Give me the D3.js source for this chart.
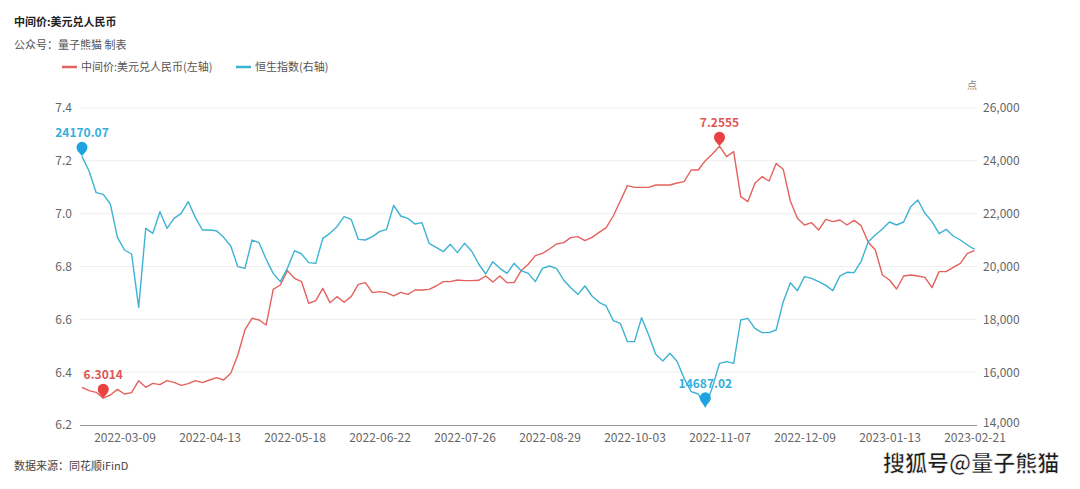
<!DOCTYPE html>
<html><head><meta charset="utf-8">
<script src="https://cdn.jsdelivr.net/npm/d3@7"></script>
<style>
html,body{margin:0;padding:0;background:#fff;}
svg{display:block;font-family:"Noto Sans CJK SC","Noto Sans",sans-serif;}
</style></head>
<body><svg id="c" width="1080" height="489"></svg>
<script>
const tickLabels = ["2022-03-09","2022-04-13","2022-05-18","2022-06-22","2022-07-26","2022-08-29","2022-10-03","2022-11-07","2022-12-09","2023-01-13","2023-02-21"];
const tickIndex = [6,18,30,42,54,66,78,90,102,114,126];
const leftTicks = [6.2,6.4,6.6,6.8,7.0,7.2,7.4];
const rightTicks = [14000,16000,18000,20000,22000,24000,26000];
const usdcny = [6.3426,6.3300,6.3237,6.3014,6.3136,6.3350,6.3174,6.3224,6.3679,6.3426,
6.3578,6.3527,6.3679,6.3616,6.3502,6.3565,6.3679,6.3603,6.3704,6.3792,
6.3704,6.3956,6.4650,6.5597,6.6040,6.5975,6.5786,6.7136,6.7300,6.7843,
6.7552,6.7426,6.6606,6.6707,6.7174,6.6631,6.6858,6.6644,6.6858,6.7325,
6.7388,6.7010,6.7048,6.7010,6.6884,6.7022,6.6947,6.7111,6.7111,6.7136,
6.7262,6.7426,6.7426,6.7490,6.7464,6.7464,6.7477,6.7641,6.7414,6.7641,
6.7388,6.7388,6.7843,6.8083,6.8411,6.8499,6.8663,6.8852,6.8903,6.9092,
6.9130,6.8979,6.9105,6.9294,6.9470,6.9912,7.0480,7.1060,7.0997,7.0997,
7.0997,7.1086,7.1086,7.1086,7.1161,7.1212,7.1653,7.1653,7.2007,7.2259,
7.2555,7.2158,7.2347,7.0644,7.0455,7.1149,7.1401,7.1237,7.1900,7.1679,
7.0480,6.9824,6.9571,6.9660,6.9382,6.9786,6.9698,6.9761,6.9571,6.9748,
6.9546,6.8915,6.8625,6.7679,6.7489,6.7149,6.7641,6.7679,6.7641,6.7590,
6.7200,6.7805,6.7805,6.7969,6.8120,6.8499,6.8600];
const hsi = [24170.07,23615,22795,22732,22366,21104,20625,20473,18450,21445,
21256,22076,21445,21824,22013,22454,21861,21382,21382,21356,
21104,20776,19994,19931,21000,20902,20271,19741,19426,19931,
20600,20473,20145,20120,21066,21256,21508,21886,21786,21028,
21003,21129,21319,21407,22316,21912,21823,21609,21659,20877,
20726,20562,20839,20524,20877,20587,20095,19716,20183,19931,
19741,20120,19842,19741,19426,19931,20019,19918,19489,19199,
18946,19262,18883,18643,18505,17950,17849,17155,17155,18063,
17407,16675,16423,16713,16410,15767,15262,15174,14687.02,15426,
16335,16398,16335,17975,18038,17659,17496,17496,17596,18669,
19388,19085,19615,19552,19426,19287,19085,19641,19780,19767,
20196,20940,21192,21420,21685,21571,21685,22265,22517,22013,
21698,21243,21407,21155,21003,20814,20650];

const svg = d3.select("#c");
const L = 80, R = 977, T = 108, B = 425;
const x = d3.scaleLinear().domain([0, usdcny.length-1]).range([82, 974.5]);
const yL = d3.scaleLinear().domain([6.2, 7.4]).range([B, T]);
const yR = d3.scaleLinear().domain([14000, 26000]).range([B, T]);
const RED = "#e4625d", BLUE = "#3db2d3";
const RED_M = "#e9413f", BLUE_M = "#1ea3e0";

// title
svg.append("text").attr("x",14).attr("y",26).attr("font-size",11).attr("font-weight","bold").attr("fill","#222").text("中间价:美元兑人民币");
svg.append("text").attr("x",14).attr("y",49).attr("font-size",11).attr("fill","#555").text("公众号：量子熊猫 制表");

// legend
const lg = svg.append("g").attr("font-size",11).attr("fill","#555");
lg.append("line").attr("x1",62).attr("x2",77).attr("y1",67).attr("y2",67).attr("stroke",RED).attr("stroke-width",2.5);
lg.append("text").attr("x",81).attr("y",71).text("中间价:美元兑人民币(左轴)");
lg.append("line").attr("x1",236).attr("x2",251).attr("y1",67).attr("y2",67).attr("stroke",BLUE).attr("stroke-width",2.5);
lg.append("text").attr("x",255).attr("y",71).text("恒生指数(右轴)");

svg.append("text").attr("x",972).attr("y",89).attr("text-anchor","middle").attr("font-size",10).attr("fill","#888").text("点");

// grid
svg.append("g").selectAll("line").data(leftTicks.slice(1)).join("line")
  .attr("x1",L).attr("x2",R).attr("y1",d=>yL(d)).attr("y2",d=>yL(d))
  .attr("stroke","#eeeeee").attr("stroke-width",1);

// axes
const axL = svg.append("g").attr("transform",`translate(${L},0)`)
  .call(d3.axisLeft(yL).tickValues(leftTicks).tickFormat(d3.format(".1f")).tickSize(0).tickPadding(8));
const axR = svg.append("g").attr("transform",`translate(${R-2},0)`)
  .call(d3.axisRight(yR).tickValues(rightTicks).tickFormat(d3.format(",")).tickSize(0).tickPadding(8));
const axB = svg.append("g").attr("transform",`translate(0,${B})`)
  .call(d3.axisBottom(x).tickValues(tickIndex).tickFormat((d,i)=>tickLabels[i]).tickSize(0).tickPadding(8.5));
[axL,axR,axB].forEach(a=>{
  a.select(".domain").remove();
  a.selectAll("text").attr("fill","#666").attr("font-size",12).attr("font-family",'"Noto Sans CJK SC","Noto Sans",sans-serif');
});
axR.selectAll("text").filter(d=>d===14000).attr("dy","0.1em");
svg.append("line").attr("x1",L).attr("x2",R).attr("y1",B+0.5).attr("y2",B+0.5).attr("stroke","#999").attr("stroke-width",1);

// lines
const lineL = d3.line().x((d,i)=>x(i)).y(d=>yL(d));
const lineR = d3.line().x((d,i)=>x(i)).y(d=>yR(d));
svg.append("path").datum(usdcny).attr("d",lineL).attr("fill","none").attr("stroke",RED).attr("stroke-width",1.4).attr("stroke-linejoin","round");
svg.append("path").datum(hsi).attr("d",lineR).attr("fill","none").attr("stroke",BLUE).attr("stroke-width",1.4).attr("stroke-linejoin","round");

// pins
const pinPath = "M0,0 C-1.5,-2.5 -5.5,-5 -5.5,-9 A5.5,5.5 0 1 1 5.5,-9 C5.5,-5 1.5,-2.5 0,0 Z";
function pin(px, py, color, label, labelColor){
  svg.append("path").attr("d",pinPath).attr("transform",`translate(${px},${py})`).attr("fill",color);
  svg.append("text").attr("x",px).attr("y",py-19).attr("text-anchor","middle")
    .attr("font-size",12).attr("font-weight","bold").attr("fill",labelColor).text(label);
}
const iMinL = d3.minIndex(usdcny), iMaxL = d3.maxIndex(usdcny);
const iMinR = d3.minIndex(hsi), iMaxR = d3.maxIndex(hsi);
pin(x(iMinL), yL(usdcny[iMinL]), RED_M, usdcny[iMinL].toFixed(4), "#e05555");
pin(x(iMaxL), yL(usdcny[iMaxL]), RED_M, usdcny[iMaxL].toFixed(4), "#e05555");
pin(x(iMaxR), yR(hsi[iMaxR]), BLUE_M, hsi[iMaxR].toFixed(2), "#34aedb");
pin(x(iMinR), yR(hsi[iMinR]), BLUE_M, hsi[iMinR].toFixed(2), "#34aedb");

// footer
svg.append("text").attr("x",14).attr("y",470).attr("font-size",11).attr("fill","#444").text("数据来源：同花顺iFinD");
svg.append("text").attr("x",883).attr("y",471).attr("font-size",22).attr("font-weight","bold")
  .attr("fill","#1a1a1a").attr("stroke","#ffffff").attr("stroke-width",0.6).text("搜狐号@量子熊猫");
</script></body></html>
